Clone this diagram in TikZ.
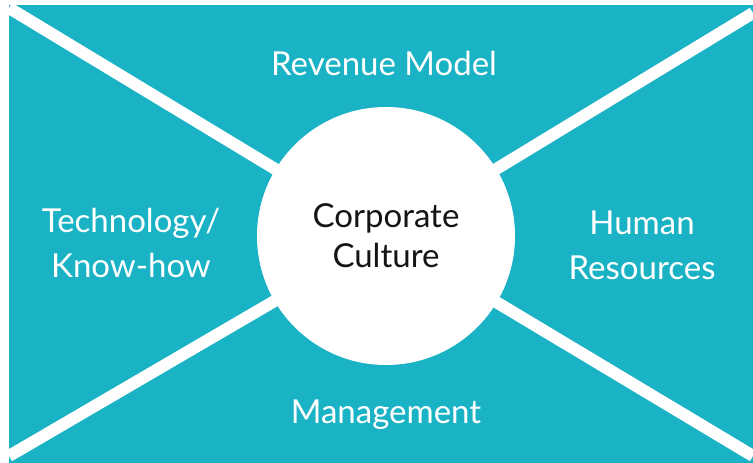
\documentclass[tikz,border=0pt]{standalone}
\usepackage{fontspec}
\setmainfont{Lato}
\usepackage{xcolor}
\definecolor{cTeal}{RGB}{26,178,197}
\definecolor{cInk}{RGB}{20,20,20}

\begin{document}
\begin{tikzpicture}[x=1pt, y=-1pt,
  lbl/.style={text=white, align=center, font=\fontsize{33}{45}\selectfont, inner sep=0pt},
  hub/.style={circle, fill=white, minimum size=258pt, inner sep=0pt, align=center,
    text=cInk, font=\fontsize{33}{40}\selectfont},
  spoke/.style={draw=white, line width=12pt}]
  \useasboundingbox (0,0) rectangle (753,463);
  \fill[cTeal] (9,5) rectangle (753,463);
  % corners where the four spokes start
  \coordinate (tl) at (9,8);
  \coordinate (tr) at (753,13);
  \coordinate (bl) at (9,456);
  \coordinate (br) at (753,456);
  \coordinate (mid) at (386,236);
  \draw[spoke] (tl) -- (mid);
  \draw[spoke] (tr) -- (mid);
  \draw[spoke] (bl) -- (mid);
  \draw[spoke] (br) -- (mid);
  \node[hub] (hub) at (mid) {Corporate\\Culture};
  \node[lbl, anchor=base] (rev) at (384,75) {Revenue Model};
  \node[lbl] (tech) at (131,243) {Technology/\\Know-how};
  \node[lbl] (hr) at (642,245) {Human\\Resources};
  \node[lbl, anchor=base] (mgmt) at (386,423) {Management};
\end{tikzpicture}
\end{document}
